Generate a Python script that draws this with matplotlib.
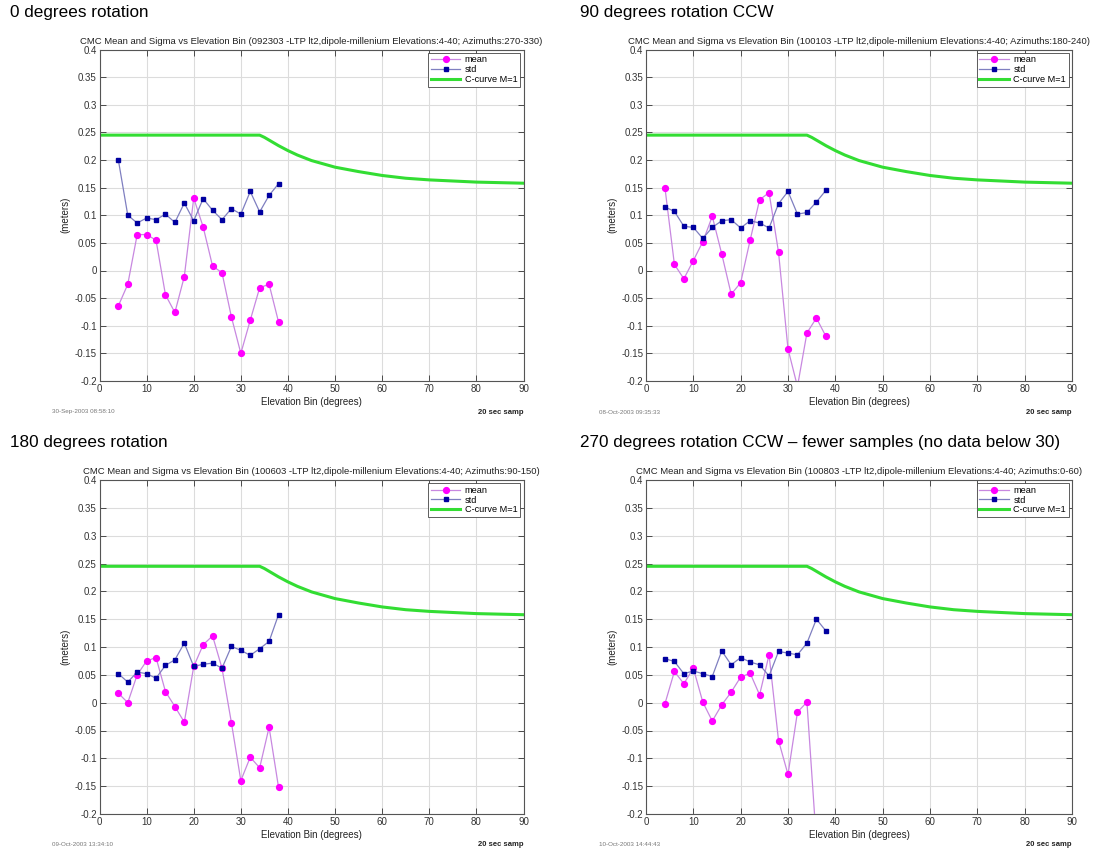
import numpy as np
import matplotlib
matplotlib.use("Agg")
import matplotlib.pyplot as plt
from matplotlib.ticker import FuncFormatter

plt.rcParams['font.family'] = ['Liberation Sans', 'DejaVu Sans']

# Elevation bins (degrees)
elev = [4, 6, 8, 10, 12, 14, 16, 18, 20, 22, 24, 26, 28, 30, 32, 34, 36, 38]

# 0 degrees rotation
mean_0 = [-0.064, -0.025, 0.065, 0.065, 0.055, -0.044, -0.076, -0.011, 0.131, 0.079,
          0.008, -0.004, -0.084, -0.150, -0.090, -0.031, -0.025, -0.093]
std_0 = [0.200, 0.100, 0.086, 0.095, 0.092, 0.102, 0.087, 0.122, 0.090, 0.130,
         0.109, 0.092, 0.112, 0.102, 0.143, 0.106, 0.136, 0.157]

# 90 degrees rotation CCW
mean_90 = [0.150, 0.011, -0.015, 0.018, 0.052, 0.098, 0.030, -0.043, -0.022, 0.055,
           0.128, 0.141, 0.033, -0.142, -0.210, -0.113, -0.086, -0.119]
std_90 = [0.115, 0.107, 0.080, 0.078, 0.058, 0.078, 0.090, 0.092, 0.077, 0.090,
          0.086, 0.077, 0.121, 0.143, 0.102, 0.105, 0.124, 0.145]

# 180 degrees rotation
mean_180 = [0.017, 0.000, 0.050, 0.075, 0.081, 0.020, -0.007, -0.035, 0.065, 0.104,
            0.120, 0.062, -0.036, -0.140, -0.098, -0.117, -0.044, -0.152]
std_180 = [0.052, 0.037, 0.055, 0.052, 0.044, 0.067, 0.077, 0.107, 0.065, 0.069,
           0.071, 0.062, 0.101, 0.094, 0.085, 0.097, 0.110, 0.158]

# 270 degrees rotation CCW
mean_270 = [-0.002, 0.056, 0.034, 0.062, 0.001, -0.033, -0.004, 0.019, 0.046, 0.053,
            0.014, 0.086, -0.068, -0.129, -0.017, 0.001, -0.250, np.nan]
std_270 = [0.079, 0.074, 0.052, 0.057, 0.052, 0.047, 0.093, 0.068, 0.081, 0.073,
           0.068, 0.048, 0.092, 0.089, 0.086, 0.107, 0.150, 0.129]

# C-curve M=1
ccurve_el = [0, 34, 35, 36, 38, 40, 42, 45, 50, 55, 60, 65, 70, 75, 80, 85, 90]
ccurve_val = [0.245, 0.245, 0.241, 0.236, 0.226, 0.217, 0.209, 0.199, 0.187, 0.179,
              0.172, 0.167, 0.164, 0.162, 0.160, 0.159, 0.158]

headings = ["0 degrees rotation",
            "90 degrees rotation CCW",
            "180 degrees rotation",
            "270 degrees rotation CCW \u2013 fewer samples (no data below 30)"]
runs = ["092303", "100103", "100603", "100803"]
azimuths = ["270-330", "180-240", "90-150", "0-60"]
stamps = ["30-Sep-2003 08:58:10", "08-Oct-2003 09:35:33",
          "09-Oct-2003 13:34:10", "10-Oct-2003 14:44:43"]
means = [mean_0, mean_90, mean_180, mean_270]
stds = [std_0, std_90, std_180, std_270]

W, H = 1109, 851
fig = plt.figure(figsize=(W / 100, H / 100), dpi=100)
fig.patch.set_facecolor('white')

# axes boxes in pixels: (left, top, right, bottom)
boxes = [(99.5, 49.5, 523.5, 381.0),
         (646.0, 49.5, 1072.0, 381.0),
         (99.5, 480.0, 523.5, 814.0),
         (646.0, 480.0, 1072.0, 814.0)]
head_x = [10, 580, 10, 580]


def fx(px):
    return px / W


def fy(py):
    return 1 - py / H


yticks = np.round(np.arange(-0.2, 0.401, 0.05), 2)
tick_fmt = FuncFormatter(lambda v, p: '0' if abs(v) < 1e-9 else '%g' % round(v, 2))

for i in range(4):
    l, t, r, b = boxes[i]
    ax = fig.add_axes([fx(l), fy(b), (r - l) / W, (b - t) / H])
    ax.plot(elev, means[i], color='#c888e0', lw=0.9, marker='o', ms=4.2,
            mfc='#ff00ff', mec='#ff00ff', label='mean', zorder=3)
    ax.plot(elev, stds[i], color='#7f7fc0', lw=0.9, marker='s', ms=3.4,
            mfc='#0000a0', mec='#0000a0', label='std', zorder=3)
    ax.plot(ccurve_el, ccurve_val, color='#33dd33', lw=2.2, label='C-curve M=1', zorder=2)
    ax.set_xlim(0, 90)
    ax.set_ylim(-0.2, 0.4)
    ax.set_xticks(range(0, 91, 10))
    ax.set_yticks(yticks)
    ax.yaxis.set_major_formatter(tick_fmt)
    ax.grid(True, color='#dcdcdc', lw=0.8)
    ax.set_axisbelow(True)
    ax.tick_params(direction='in', length=4, width=0.6, labelsize=7, pad=2,
                   top=True, right=True, colors='#333333')
    for s in ax.spines.values():
        s.set_color('#555555')
        s.set_linewidth(0.8)
    ax.set_title("CMC Mean and Sigma vs Elevation Bin (%s -LTP lt2,dipole-millenium "
                 "Elevations:4-40; Azimuths:%s)" % (runs[i], azimuths[i]),
                 fontsize=6.8, pad=4, color='#222222')
    ax.set_xlabel("Elevation Bin (degrees)", fontsize=7, labelpad=2, color='#222222')
    ax.set_ylabel("(meters)", fontsize=7, labelpad=3, color='#222222')
    leg = ax.legend(loc='upper right', fontsize=6.6, handlelength=3.2, borderaxespad=0.35,
                    labelspacing=0.08, borderpad=0.3, handletextpad=0.5,
                    fancybox=False, framealpha=1, edgecolor='#444444')
    leg.get_frame().set_linewidth(0.6)

    fig.text(fx(head_x[i]), fy(t - 37), headings[i], fontsize=12.3, ha='left',
             va='center', color='black')
    fig.text(fx(l - 47), fy(b + 31), stamps[i], fontsize=4.5, ha='left',
             va='center', color='#777777')
    fig.text(fx(r), fy(b + 31), "20 sec samp", fontsize=5.5, ha='right',
             va='center', color='#222222', fontweight='bold')

fig.savefig("out.png", dpi=100, facecolor='white')
